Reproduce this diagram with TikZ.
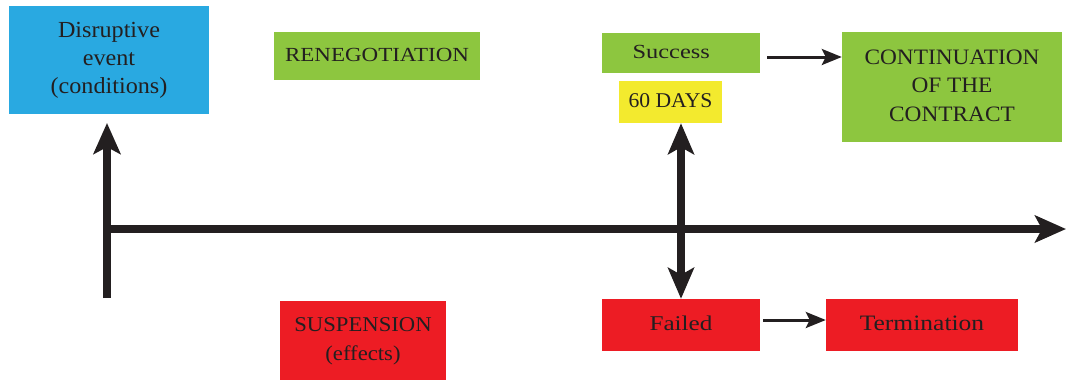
\documentclass[tikz,border=0pt]{standalone}
\usepackage{fontspec}
\usepackage{graphicx}
\setmainfont{Liberation Serif}
\usetikzlibrary{arrows.meta}
\definecolor{cblue}{HTML}{29A9E1}
\definecolor{cgreen}{HTML}{8DC63F}
\definecolor{cred}{HTML}{ED1C24}
\definecolor{cyellow}{HTML}{F3EA2E}
\definecolor{cink}{HTML}{231F20}
\newcommand\wtxt[2]{\scalebox{#1}[1]{\begin{tabular}{@{}c@{}}#2\end{tabular}}}
\newcommand\fsz[2]{\fontsize{#1}{#2}\selectfont}
\tikzset{
  box/.style={inner sep=0pt, align=center, text=cink},
  thick arrow/.style={draw=cink, line width=8pt, -{Stealth[length=31pt,width=27pt,inset=7pt]}},
  thin arrow/.style={draw=cink, line width=3pt, -{Stealth[length=20pt,width=16pt,inset=4pt]}},
}
\begin{document}
\begin{tikzpicture}[x=1pt,y=-1pt]
\useasboundingbox (0,0) rectangle (1068,381);
% boxes
\node[box, fill=cblue, minimum width=200pt, minimum height=108pt, font=\fsz{23}{28}] (event) at (109,60) {\wtxt{1.05}{Disruptive\\event\\(conditions)}};
\node[box, fill=cgreen, minimum width=206pt, minimum height=48pt, font=\fsz{20}{29}] (reneg) at (377,56) {\wtxt{1.15}{RENEGOTIATION}};
\node[box, fill=cred, minimum width=166pt, minimum height=79pt, font=\fsz{21}{29}] (susp) at (363,340.5) {\wtxt{1.08}{SUSPENSION\\(effects)}};
\node[box, fill=cgreen, minimum width=158pt, minimum height=40pt, font=\fsz{20}{29}] (success) at (681,53) {\wtxt{1.22}{Success\hspace*{16pt}}};
\node[box, fill=cyellow, minimum width=103pt, minimum height=42pt, font=\fsz{21}{29}] (days) at (670.5,102) {\wtxt{1.03}{60 DAYS}};
\node[box, fill=cgreen, minimum width=220pt, minimum height=110pt, font=\fsz{22}{28.5}] (cont) at (952,87) {\wtxt{1.06}{CONTINUATION\\OF THE\\CONTRACT}};
\node[box, fill=cred, minimum width=158pt, minimum height=52pt, font=\fsz{21}{29}] (failed) at (681,325) {\wtxt{1.2}{Failed}};
\node[box, fill=cred, minimum width=192pt, minimum height=52pt, font=\fsz{22}{29}] (term) at (922,325) {\wtxt{1.16}{Termination}};
% axis coordinates
\coordinate (lbot) at (107,298);
\coordinate (ltop) at (107,123);
\coordinate (axstart) at (103,229);
\coordinate (axend) at (1066,229);
% connectors
\draw[thick arrow] (lbot) -- (ltop);
\draw[thick arrow] (axstart) -- (axend);
\draw[thick arrow, {Stealth[length=31pt,width=26pt,inset=7pt]}-{Stealth[length=31pt,width=26pt,inset=7pt]}] (failed.north |- days.south) -- (failed.north);
\draw[thin arrow, shorten <=7pt] ([yshift=-4pt]success.east) -- ([yshift=-4pt]success.east -| cont.west);
\draw[thin arrow, shorten <=3pt] ([yshift=5pt]failed.east) -- ([yshift=5pt]failed.east -| term.west);
\end{tikzpicture}
\end{document}
